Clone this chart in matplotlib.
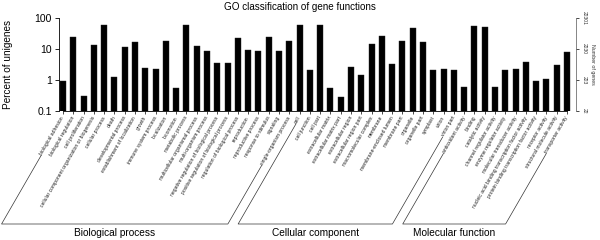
import numpy as np
import matplotlib
matplotlib.use('Agg')
import matplotlib.pyplot as plt
from matplotlib.lines import Line2D

plt.rcParams['font.family'] = ['Liberation Sans', 'DejaVu Sans']

# GO categories and percent of unigenes
bp_terms = ['biological adhesion', 'biological regulation', 'cell proliferation',
            'cellular component organization or biogenesis', 'cellular process', 'death',
            'developmental process', 'establishment of localization', 'growth',
            'immune system process', 'localization', 'locomotion', 'metabolic process',
            'multicellular organismal process', 'multi-organism process',
            'negative regulation of biological process',
            'positive regulation of biological process',
            'regulation of biological process', 'reproduction', 'reproductive process',
            'response to stimulus', 'signaling', 'single-organism process']
bp_vals = [0.95, 23.8, 0.30, 13.8, 61, 1.25, 11.9, 17.2, 2.44, 2.32, 17.7, 0.54, 58,
           12.2, 8.4, 3.45, 3.45, 22.1, 9.1, 8.6, 23.8, 8.4, 18.5]

cc_terms = ['cell', 'cell junction', 'cell part', 'extracellular matrix',
            'extracellular matrix part', 'extracellular region', 'extracellular region part',
            'macromolecular complex', 'membrane', 'membrane-enclosed lumen', 'membrane part',
            'organelle', 'organelle part', 'symplast', 'virion', 'virion part']
cc_vals = [59.5, 2.05, 59.5, 0.55, 0.276, 2.63, 1.45, 14.5, 26.9, 3.36, 17.7,
           46.5, 16.8, 2.05, 2.21, 2.05]

mf_terms = ['antioxidant activity', 'binding', 'catalytic activity',
            'channel regulator activity', 'enzyme regulator activity',
            'molecular transducer activity',
            'nucleic acid binding transcription factor activity',
            'protein binding transcription factor activity', 'receptor activity',
            'structural molecule activity', 'transporter activity']
mf_vals = [0.59, 56.5, 50, 0.61, 2.15, 2.26, 3.85, 0.95, 1.08, 2.98, 8.2]

groups = ['Biological process', 'Cellular component', 'Molecular function']
total_genes = 22301
pct_ticks = [0.1, 1, 10, 100]

terms = bp_terms + cc_terms + mf_terms
vals = bp_vals + cc_vals + mf_vals
sizes = [len(bp_terms), len(cc_terms), len(mf_terms)]
x = np.arange(len(terms))

W, H = 600, 240
fig = plt.figure(figsize=(6, 2.4), dpi=100)
ax = fig.add_axes([59 / W, 1 - 111 / H, (576 - 59) / W, 93 / H])

ax.bar(x, vals, width=0.58, color='black', edgecolor='#222222', linewidth=0.3)
ax.set_yscale('log')
ax.set_ylim(0.1, 100)
ax.set_xlim(-0.39, len(terms) - 1 + 0.87)

ax.set_yticks(pct_ticks)
ax.set_yticklabels(['0.1', '1', '10', '100'], fontsize=7.5)
ax.yaxis.set_minor_locator(matplotlib.ticker.NullLocator())
ax.tick_params(axis='y', length=3, width=0.6, pad=2)
ax.set_ylabel('Percent of unigenes', fontsize=7.2)
ax.yaxis.set_label_coords((13 - 59) / 517, 0.5)

ax.set_xticks(x)
ax.set_xticklabels(terms, rotation=60, ha='right', va='center',
                   rotation_mode='anchor', fontsize=3.6, color='#222222')
ax.tick_params(axis='x', length=2, width=0.5, pad=2)

for s in ['top', 'right']:
    ax.spines[s].set_visible(False)
ax.spines['left'].set_bounds(0.1, 100)
ax.spines['bottom'].set_bounds(0, len(terms) - 1)
ax.spines['left'].set_linewidth(0.6)
ax.spines['bottom'].set_linewidth(0.6)

# right axis: number of genes
ax2 = ax.twinx()
ax2.set_yscale('log')
ax2.set_ylim(0.1, 100)
ax2.set_yticks(pct_ticks)
ax2.set_yticklabels([str(int(total_genes * p / 100)) for p in pct_ticks],
                    fontsize=3.6, rotation=270, va='center', color='#333333')
ax2.yaxis.set_minor_locator(matplotlib.ticker.NullLocator())
ax2.tick_params(axis='y', length=2, width=0.5, pad=2)
for s in ['top', 'left', 'bottom']:
    ax2.spines[s].set_visible(False)
ax2.spines['right'].set_bounds(0.1, 100)
ax2.spines['right'].set_linewidth(0.5)
ax2.spines['right'].set_color('#555555')
ax2.set_ylabel('Number of genes', fontsize=3.8, rotation=270, color='#333333')
ax2.yaxis.set_label_coords((595 - 59) / 517, 0.5)

fig.text(0.5, 1 - 7 / H, 'GO classification of gene functions', ha='center',
         va='center', fontsize=7.1)

# group brackets follow the direction of the first/last label of each group
fig.canvas.draw()
r = fig.canvas.get_renderer()
labels = ax.get_xticklabels()
ang = np.deg2rad(60)
h = 3.6 * 100 / 72
y_base = H - 224


def label_start(lab):
    bb = lab.get_window_extent(r)
    return bb.x0 + 0.5 * h * np.sin(ang), bb.y0 + 0.5 * h * np.cos(ang) - 1


def down_to_base(p):
    dy = p[1] - y_base
    return p[0] - dy / np.tan(ang), y_base


start = 0
for g, n in zip(groups, sizes):
    p1 = label_start(labels[start])
    p2 = label_start(labels[start + n - 1])
    b1 = down_to_base(p1)
    b2 = down_to_base(p2)
    xs = [p1[0], b1[0], b2[0], p2[0]]
    ys = [p1[1], b1[1], b2[1], p2[1]]
    fig.add_artist(Line2D(np.array(xs) / W, np.array(ys) / H, color='#333333',
                          linewidth=0.5, transform=fig.transFigure))
    fig.text((b1[0] + b2[0]) / 2 / W, (y_base - 9) / H, g, ha='center',
             va='center', fontsize=7.3)
    start += n

fig.savefig('out.png', dpi=100)
